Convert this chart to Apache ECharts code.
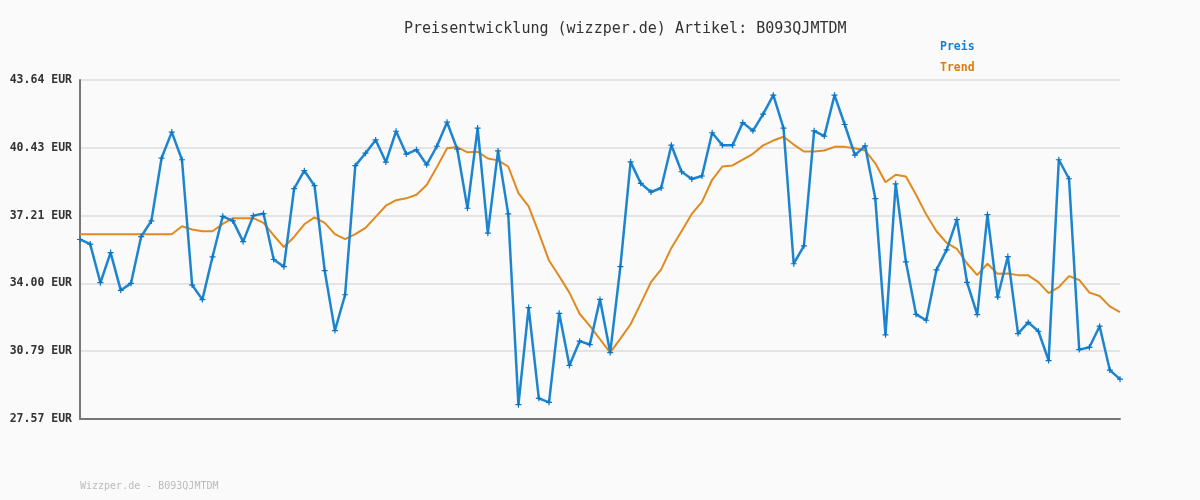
<!DOCTYPE html>
<html lang="de">
<head>
  <meta charset="UTF-8">
  <script src="https://cdn.jsdelivr.net/npm/echarts@6/dist/echarts.min.js"></script>
  <style>
    body { margin: 0; background: #fafafa; }
    #main { width: 1200px; height: 500px; }
  </style>
</head>
<body>
  <div id="main"></div>
  <script>
    // Preis (blue) and Trend (orange), one value per day
    var preis = [
      36.08, 35.86, 34.03, 35.46, 33.67, 34.00, 36.22, 36.96, 39.94, 41.17,
      39.86, 33.92, 33.23, 35.26, 37.18, 36.96, 35.98, 37.21, 37.31, 35.13,
      34.79, 38.49, 39.34, 38.63, 34.60, 31.76, 33.46, 39.58, 40.17, 40.80,
      39.75, 41.21, 40.13, 40.33, 39.62, 40.50, 41.64, 40.36, 37.56, 41.36,
      36.38, 40.28, 37.29, 28.25, 32.85, 28.55, 28.36, 32.58, 30.11, 31.26,
      31.10, 33.24, 30.72, 34.79, 39.76, 38.74, 38.33, 38.52, 40.55, 39.29,
      38.95, 39.09, 41.14, 40.55, 40.55, 41.62, 41.23, 42.02, 42.92, 41.36,
      34.93, 35.78, 41.23, 40.98, 42.92, 41.53, 40.08, 40.52, 38.02, 31.56,
      38.72, 35.02, 32.53, 32.25, 34.64, 35.59, 37.02, 34.05, 32.52, 37.26,
      33.35, 35.27, 31.62, 32.15, 31.73, 30.34, 39.86, 38.96, 30.86, 30.97,
      31.97, 29.89, 29.46
    ];
    var trend = [
      36.33, 36.33, 36.33, 36.33, 36.33, 36.33, 36.33, 36.33, 36.33, 36.33,
      36.71, 36.55, 36.47, 36.47, 36.82, 37.09, 37.09, 37.09, 36.87, 36.27,
      35.72, 36.20, 36.80, 37.13, 36.87, 36.33, 36.10, 36.33, 36.63, 37.15,
      37.68, 37.94, 38.03, 38.20, 38.66, 39.51, 40.40, 40.46, 40.21, 40.24,
      39.92, 39.83, 39.54, 38.28, 37.65, 36.39, 35.08, 34.34, 33.56, 32.56,
      31.98, 31.35, 30.72, 31.38, 32.06, 33.05, 34.06, 34.66, 35.68, 36.47,
      37.29, 37.86, 38.91, 39.54, 39.59, 39.86, 40.14, 40.54, 40.77, 40.95,
      40.58, 40.25, 40.25, 40.30, 40.47, 40.47, 40.40, 40.30, 39.69, 38.79,
      39.15, 39.07, 38.20, 37.26, 36.47, 35.92, 35.64, 34.94, 34.39, 34.93,
      34.45, 34.47, 34.39, 34.38, 34.06, 33.54, 33.82, 34.34, 34.16, 33.56,
      33.40, 32.91, 32.64
    ];
    var tickLabels = ['27.57', '30.79', '34.00', '37.21', '40.43', '43.64'];
    var days = preis.map(function (v, i) { return String(i + 1); });

    var yMin = 27.57, yMax = 43.64;
    var yStep = (yMax - yMin) / 5;
    var mono = '"DejaVu Sans Mono", monospace';
    var plus = 'path://M2,0H3V2H5V3H3V5H2V3H0V2H2Z';

    var chart = echarts.init(document.getElementById('main'));
    chart.setOption({
      backgroundColor: '#fafafa',
      animation: false,
      title: {
        text: 'Preisentwicklung (wizzper.de) Artikel: B093QJMTDM',
        left: 399,
        top: 17,
        textStyle: { fontFamily: mono, fontSize: 15, fontWeight: 'normal', color: '#333' }
      },
      legend: {
        orient: 'vertical',
        left: 935,
        top: 35,
        icon: 'none',
        itemWidth: 0,
        itemGap: 8,
        textStyle: { fontFamily: mono, fontSize: 11.5, fontWeight: 'bold', padding: [0, 0, 0, -5] },
        data: [
          { name: 'Preis', textStyle: { color: '#1a7fcc' } },
          { name: 'Trend', textStyle: { color: '#e07b12' } }
        ]
      },
      graphic: [{
        type: 'text',
        left: 80,
        top: 481,
        style: { text: 'Wizzper.de - B093QJMTDM', font: '10px ' + mono, fill: '#bbbbbb' }
      }],
      grid: { left: 80, right: 80, top: 80, bottom: 81 },
      xAxis: {
        type: 'category',
        data: days,
        boundaryGap: false,
        axisLine: { lineStyle: { color: '#777', width: 2 } },
        axisTick: { show: false },
        axisLabel: { show: false },
        splitLine: { show: false }
      },
      yAxis: {
        type: 'value',
        min: yMin,
        max: yMax,
        interval: yStep,
        axisLine: { show: true, lineStyle: { color: '#777', width: 2 } },
        axisTick: { show: false },
        axisLabel: {
          margin: 8,
          fontFamily: mono,
          fontSize: 11.5,
          fontWeight: 'bold',
          color: '#333',
          formatter: function (v) {
            return tickLabels[Math.round((v - yMin) / yStep)] + ' EUR';
          }
        },
        splitLine: { lineStyle: { color: '#e4e4e4', width: 2 } }
      },
      series: [
        {
          name: 'Trend',
          type: 'line',
          data: trend,
          symbol: 'none',
          lineStyle: { color: '#e08a1e', width: 2 },
          itemStyle: { color: '#e07b12' }
        },
        {
          name: 'Preis',
          type: 'line',
          data: preis,
          symbol: plus,
          symbolSize: 6,
          lineStyle: { color: '#1d85cf', width: 2.5 },
          itemStyle: { color: '#0a74c4' }
        }
      ]
    });
  </script>
</body>
</html>
